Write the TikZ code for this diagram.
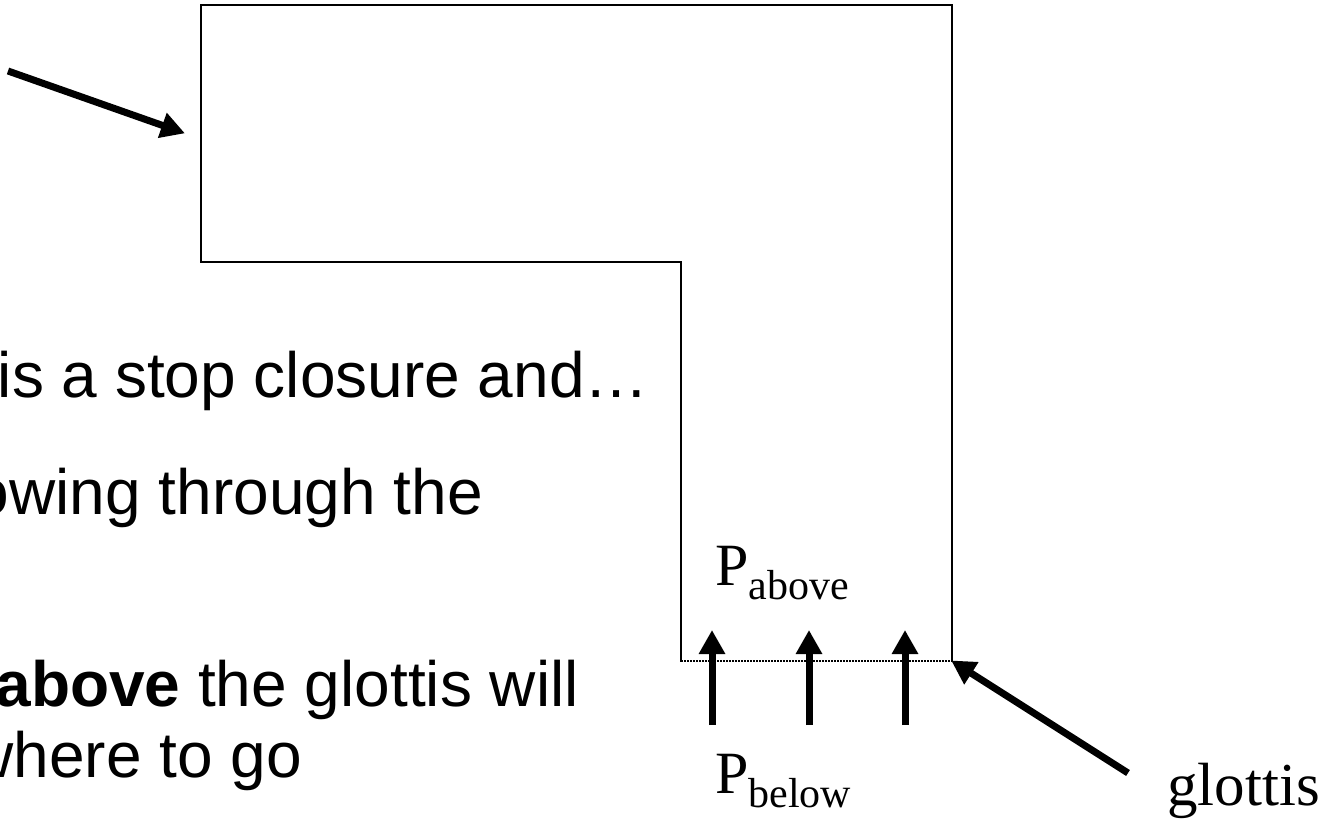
\documentclass[tikz,border=0pt]{standalone}
\usepackage{fontspec}
\setmainfont{Liberation Serif}
\setsansfont{Liberation Sans}
\usetikzlibrary{arrows.meta}
\tikzset{
  wall/.style={line width=1.5pt, line cap=rect},
  opening/.style={line width=1.5pt, dash pattern=on 1.5pt off 1.5pt},
  bigarrow/.style={line width=7pt, -{Triangle[length=24pt,width=25pt]}, shorten >=-1pt},
  bodytext/.style={inner sep=0pt, anchor=base east, font=\sffamily\fontsize{64}{74}\selectfont},
  label/.style={inner sep=0pt, anchor=base west, font=\fontsize{60}{66}\selectfont},
}
\newcommand{\subtxt}[1]{{\fontsize{42}{46}\selectfont\raisebox{-14pt}{#1}}}
\begin{document}
\begin{tikzpicture}[x=1pt,y=-1pt]
\useasboundingbox (0,0) rectangle (1328,822);
\clip (0,0) rectangle (1328,822);
% tract outline corners
\coordinate (tl) at (201,5);
\coordinate (tr) at (952,5);
\coordinate (bl) at (201,262);
\coordinate (nk) at (681,262);
\coordinate (gl) at (681,661);
\coordinate (gr) at (952,661);
\draw[wall] (gl) -- (nk) -- (bl) -- (tl) -- (tr) -- (gr);
\draw[opening] (gl) -- (gr);
% pressure arrows
\coordinate (a1s) at (712,725); \coordinate (a1e) at (712,631);
\coordinate (a2s) at (809,725); \coordinate (a2e) at (809,631);
\coordinate (a3s) at (905,725); \coordinate (a3e) at (905,631);
\draw[bigarrow] (a1s) -- (a1e);
\draw[bigarrow] (a2s) -- (a2e);
\draw[bigarrow] (a3s) -- (a3e);
% pointer arrows
\coordinate (p1s) at (8,71);
\coordinate (p1e) at (184,133);
\draw[bigarrow] (p1s) -- (p1e);
\coordinate (p2s) at (1128,773);
\draw[bigarrow] (p2s) -- (gr);
% labels
\node[label] (pab) at (715,585) {P\subtxt{above}};
\node[label] (pbe) at (715,793) {P\subtxt{below}};
\node[label, font=\fontsize{61}{66}\selectfont] (glt) at (1167,805) {glottis};
% body text (cut at left edge, as in the reference)
\node[bodytext] (t1) at (649,397) {is a stop closure and…};
\node[bodytext] (t2) at (483,514) {owing through the};
\node[bodytext] (t3) at (579,706) {\textbf{above} the glottis will};
\node[bodytext] (t4) at (302,777) {where to go};
\end{tikzpicture}
\end{document}
